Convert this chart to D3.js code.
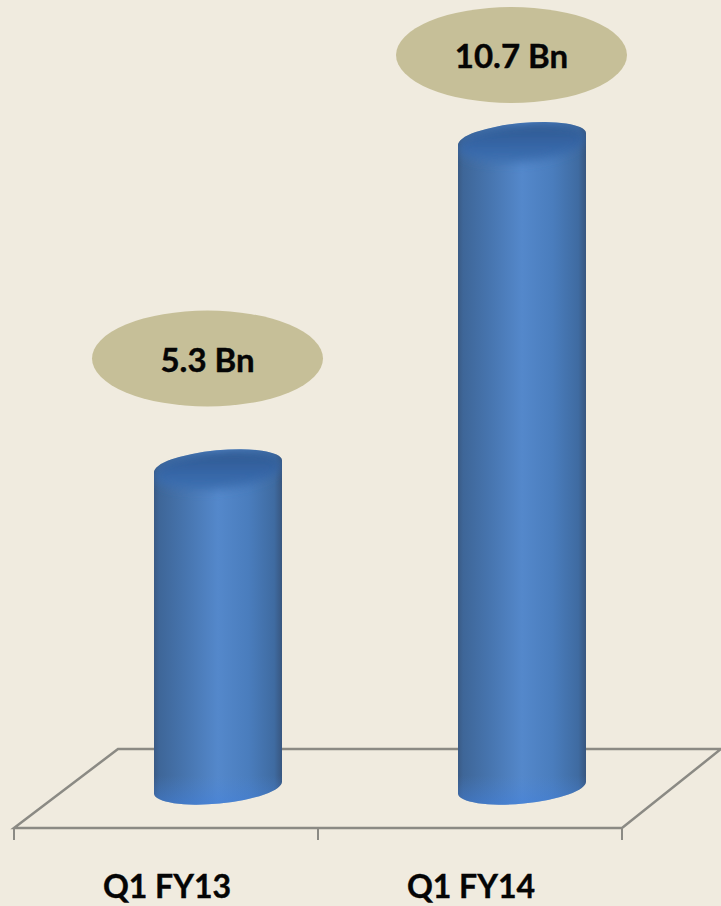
<!DOCTYPE html>
<html>
<head>
<meta charset="utf-8">
<script src="https://cdn.jsdelivr.net/npm/d3@7/dist/d3.min.js"></script>
<style>
  html, body { margin: 0; padding: 0; background: #f0ebdf; overflow: hidden; }
  text { font-family: Lato, "Open Sans", sans-serif; font-weight: 700; fill: #050505; stroke: #050505; stroke-width: 0.4; }
  .floor { fill: none; stroke: #8b8a84; stroke-width: 2.5; }
  .floor line { stroke-width: 2; }
</style>
</head>
<body>
<div id="chart-area"></div>
<script>
const quarters = ["Q1 FY13", "Q1 FY14"];
const revenue = [5.3, 10.7];
const valueLabels = ["5.3 Bn", "10.7 Bn"];

const chartSize = { width: 721, height: 906 };
const floor = { left: 14, right: 622, front: 828, back: 749, depth: 104 };
const barWidth = 128;
const tilt = -5.5;

const x = d3.scaleBand().domain(quarters).range([floor.left, floor.right]);
const y = d3.scaleLinear().domain([0, 12]).range([787.5, 60.3]);

const svg = d3
  .select("#chart-area")
  .append("svg")
  .attr("width", chartSize.width)
  .attr("height", chartSize.height)
  .style("display", "block");

const defs = svg.append("defs");

const addGradient = function(id, stops, vertical) {
  const g = defs
    .append("linearGradient")
    .attr("id", id)
    .attr("x1", 0)
    .attr("y1", 0)
    .attr("x2", vertical ? 0 : 1)
    .attr("y2", vertical ? 1 : 0);
  stops.forEach(([o, c, a]) => {
    g.append("stop")
      .attr("offset", o)
      .attr("stop-color", c)
      .attr("stop-opacity", a === undefined ? 1 : a);
  });
};

addGradient("body", [
  [0, "#3a5a84"],
  [0.04, "#3e6698"],
  [0.25, "#4775af"],
  [0.5, "#5488cb"],
  [0.74, "#4a7dbd"],
  [0.94, "#3f6ba1"],
  [1, "#38567f"]
]);
addGradient("cap", [
  [0, "#30598f"],
  [0.55, "#3565a6"],
  [1, "#3f72b3"]
], true);
addGradient("foot", [
  [0, "#4a86dd", 0],
  [1, "#3f80e2", 0.55]
], true);

defs.append("filter").attr("id", "soft")
  .attr("x", "-20%").attr("y", "-50%").attr("width", "140%").attr("height", "200%")
  .append("feGaussianBlur").attr("stdDeviation", 5);

// floor of the 3d chart
const floorGroup = svg.append("g").attr("class", "floor");
floorGroup.append("path").attr("d",
  `M${floor.left},${floor.front}L${floor.left + floor.depth},${floor.back}H${floor.right + floor.depth - 5}` +
  `L${floor.right},${floor.front}Z`);
[floor.left, x(quarters[1]), floor.right].forEach(t => {
  floorGroup.append("line")
    .attr("x1", t).attr("x2", t)
    .attr("y1", floor.front).attr("y2", floor.front + 12);
});

// tilted cylinders
const rx = barWidth / 2;
const ryBody = 16;
const rise = rx * Math.tan(-tilt * Math.PI / 180);

const cylinder = function(cx, top, base) {
  return `M${cx - rx},${top + rise}` +
    `A${rx},${ryBody} ${tilt} 0 1 ${cx + rx},${top - rise}` +
    `V${base - rise}` +
    `A${rx},${ryBody} ${tilt} 0 1 ${cx - rx},${base + rise}Z`;
};
const disc = function(cx, cy, r) {
  return `M${cx - rx},${cy + rise}` +
    `A${rx},${r} ${tilt} 0 1 ${cx + rx},${cy - rise}` +
    `A${rx},${r} ${tilt} 0 1 ${cx - rx},${cy + rise}Z`;
};

const bars = svg
  .selectAll("g.bar")
  .data(quarters)
  .enter()
  .append("g")
  .attr("class", "bar");

bars.each(function(q, i) {
  const g = d3.select(this);
  const cx = x(q) + x.bandwidth() / 2 + floor.depth / 2;
  const top = y(revenue[i]);
  const base = y(0);
  const clipId = `clip-${i}`;

  defs.append("clipPath").attr("id", clipId)
    .append("path").attr("d", cylinder(cx, top, base));

  g.append("path").attr("d", cylinder(cx, top, base)).attr("fill", "url(#body)");

  const inner = g.append("g").attr("clip-path", `url(#${clipId})`);
  inner.append("path")
    .attr("d", disc(cx, top + 4, ryBody + 3))
    .attr("fill", "url(#cap)")
    .attr("filter", "url(#soft)");
  inner.append("rect")
    .attr("x", cx - rx)
    .attr("width", barWidth)
    .attr("y", base - 12)
    .attr("height", 32)
    .attr("fill", "url(#foot)");
});

// value bubbles above the bars
const bubbleCx = [207.5, 511.5];
const bubbleCy = [358.5, 55];

svg.selectAll("ellipse.bubble")
  .data(revenue)
  .enter()
  .append("ellipse")
  .attr("class", "bubble")
  .attr("cx", (d, i) => bubbleCx[i])
  .attr("cy", (d, i) => bubbleCy[i])
  .attr("rx", 115.5)
  .attr("ry", 48)
  .attr("fill", "#c6bf98");

svg.selectAll("text.value")
  .data(valueLabels)
  .enter()
  .append("text")
  .attr("class", "value")
  .attr("x", (d, i) => bubbleCx[i])
  .attr("y", (d, i) => bubbleCy[i] + 13)
  .attr("text-anchor", "middle")
  .attr("font-size", 33)
  .text(d => d);

svg.selectAll("text.quarter")
  .data(quarters)
  .enter()
  .append("text")
  .attr("class", "quarter")
  .attr("x", d => x(d) + x.bandwidth() / 2 + 1)
  .attr("y", 898)
  .attr("text-anchor", "middle")
  .attr("font-size", 32)
  .text(d => d);
</script>
</body>
</html>
